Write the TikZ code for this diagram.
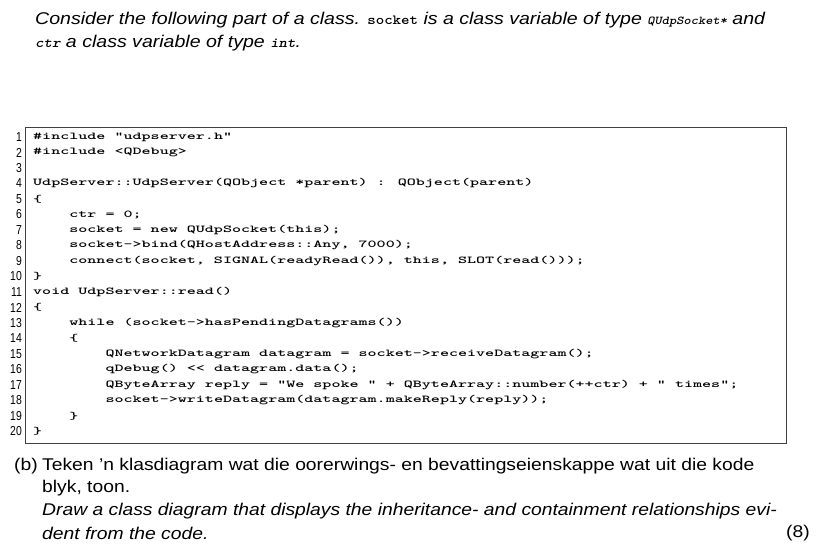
\documentclass[tikz,border=0pt]{standalone}
\usepackage{fontspec}
\setsansfont{Liberation Sans}
\usepackage{graphicx}
\begin{document}
\begin{tikzpicture}[x=1pt,y=-1pt,
  txt/.style={anchor=west,inner sep=0pt,font=\fontsize{17}{19}\sffamily},
  itx/.style={txt,font=\fontsize{17}{19}\sffamily\itshape},
  code/.style={anchor=west,inner sep=0pt,font=\fontsize{10.5}{12}\ttfamily\bfseries},
  num/.style={anchor=east,inner sep=0pt,font=\fontsize{13}{14}\sffamily}]
\useasboundingbox (0,0) rectangle (821,545);
\fill[white] (0,0) rectangle (821,545);
\newcommand\cs[1]{\scalebox{1.64}[1]{#1}}
\newcommand\ts[1]{\scalebox{1.15}[1]{#1}}
\newcommand\bs[1]{\scalebox{1.135}[1]{#1}}
\node[itx] (t1) at (35,20) {\ts{Consider the following part of a class. \texttt{\bfseries\upshape\fontsize{14}{15}\selectfont socket} is a class variable of type \texttt{\bfseries\fontsize{12}{13}\selectfont QUdpSocket*} and}};
\node[itx] (t2) at (35,43) {\ts{\texttt{\bfseries\fontsize{14}{15}\selectfont ctr} a class variable of type \texttt{\bfseries\fontsize{14}{15}\selectfont int}.}};
\node[draw=black!75,line width=0.8pt,minimum width=761,minimum height=316,anchor=north west,inner sep=0pt] (box) at (25,127) {};
\foreach \i/\t in {1/{\#include "udpserver.h"},2/{\#include <QDebug>},3/{},
4/{UdpServer::UdpServer(QObject *parent) : QObject(parent)},5/{\{},
6/{\ \ \ \ ctr = 0;},7/{\ \ \ \ socket = new QUdpSocket(this);},
8/{\ \ \ \ socket->bind(QHostAddress::Any, 7000);},
9/{\ \ \ \ connect(socket, SIGNAL(readyRead()), this, SLOT(read()));},
10/{\}},11/{void UdpServer::read()},12/{\{},
13/{\ \ \ \ while (socket->hasPendingDatagrams())},14/{\ \ \ \ \{},
15/{\ \ \ \ \ \ \ \ QNetworkDatagram datagram = socket->receiveDatagram();},
16/{\ \ \ \ \ \ \ \ qDebug() << datagram.data();},
17/{\ \ \ \ \ \ \ \ QByteArray reply = "We spoke " + QByteArray::number(++ctr) + " times";},
18/{\ \ \ \ \ \ \ \ socket->writeDatagram(datagram.makeReply(reply));},
19/{\ \ \ \ \}},20/{\}}}{
  \node[num] (n\i) at (22,{137+(\i-1)*15.5}) {\scalebox{0.8}[1]{\i}};
  \node[code] (c\i) at (33,{137+(\i-1)*15.5}) {\cs{\t}};
}
\node[txt] (b) at (14,466) {\bs{(b)}};
\node[txt] (b1) at (42,466) {\bs{Teken 'n klasdiagram wat die oorerwings- en bevattingseienskappe wat uit die kode}};
\node[txt] (b2) at (42,488) {\bs{blyk, toon.}};
\node[itx] (b3) at (42,511) {\bs{Draw a class diagram that displays the inheritance- and containment relationships evi-}};
\node[itx] (b4) at (42,533) {\bs{dent from the code.}};
\node[txt,anchor=east] (m) at (810,533) {\bs{(8)}};
\end{tikzpicture}
\end{document}
